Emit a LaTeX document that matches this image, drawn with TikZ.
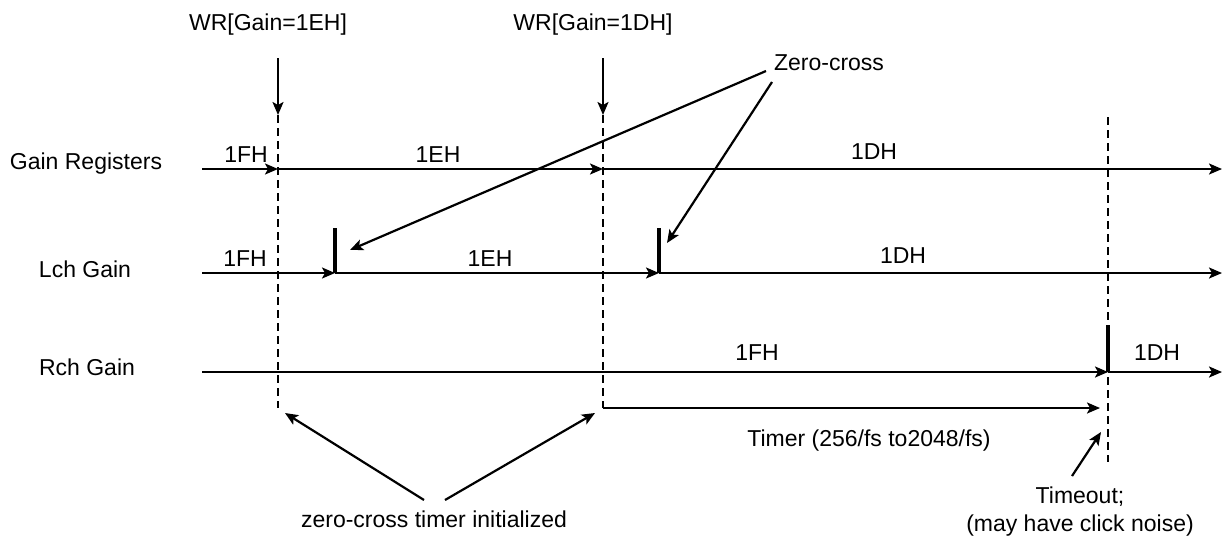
\documentclass[tikz,border=0pt]{standalone}
\usepackage{fontspec}
\setmainfont{Liberation Sans}
\usetikzlibrary{arrows.meta,positioning}
\tikzstyle{every edge}=[-,shorten >=0pt,draw]
\tikzstyle{txt}=[inner sep=0pt,font=\fontsize{11.5}{14}\selectfont]
\tikzstyle{lbl}=[txt,text height=8.3pt,text depth=0pt]

\begin{document}
\begin{tikzpicture}[x=0.5pt,y=-0.5pt]
        \tikzstyle{every edge}=[->,>={Stealth[length=6.5pt,width=5.5pt,inset=1.5pt]},line width=1.1pt,draw]
        \tikzstyle{bar}=[line width=2.3pt]
        \tikzstyle{mark line}=[dash pattern=on 4pt off 2.5pt,line width=0.8pt]
        \useasboundingbox (0,0) rectangle (1225,537);
        % Write commands:
        \node (wr_1) [lbl] at (268,22) {WR[Gain=1EH]};
        \node (wr_2) [lbl] at (593,22) {WR[Gain=1DH]};
        \node (zc) [lbl] at (829,62) {Zero-cross};
        % Row names:
        \node (n_gr) [lbl] at (86,161) {Gain Registers};
        \node (n_l) [lbl] at (85,269) {Lch Gain};
        \node (n_r) [lbl] at (87,367) {Rch Gain};
        % First line:
        \coordinate (g_0) at (202,169);
        \coordinate (g_1) at (278,169);
        \coordinate (g_2) at (603,169);
        \coordinate (g_3) at (1222,169);
        \node (v_g1) [lbl] at (246,154) {1FH};
        \node (v_g2) [lbl] at (438,154) {1EH};
        \node (v_g3) [lbl] at (874,151) {1DH};
        % Second line:
        \coordinate (l_0) at (202,273);
        \coordinate (l_1) at (335,273);
        \coordinate (l_2) at (659,273);
        \coordinate (l_3) at (1222,273);
        \coordinate (l_1t) at (335,228);
        \coordinate (l_2t) at (659,228);
        \node (v_l1) [lbl] at (245,258) {1FH};
        \node (v_l2) [lbl] at (490,258) {1EH};
        \node (v_l3) [lbl] at (903,255) {1DH};
        % Third line:
        \coordinate (r_0) at (202,372);
        \coordinate (r_1) at (1108,372);
        \coordinate (r_2) at (1222,372);
        \coordinate (r_1t) at (1108,325);
        \node (v_r1) [lbl] at (757,352) {1FH};
        \node (v_r2) [lbl] at (1157,352) {1DH};
        % Marker lines:
        \coordinate (w_1a) at (278,58);
        \coordinate (w_1b) at (278,115);
        \coordinate (w_2a) at (603,58);
        \coordinate (w_2b) at (603,115);
        \coordinate (d_1) at (278,408);
        \coordinate (d_2) at (603,408);
        \coordinate (d_3a) at (1108,117);
        \coordinate (d_3b) at (1108,462);
        \coordinate (t_end) at (1100,408);
        % Notes:
        \node (tm) [lbl] at (869,438) {Timer (256/fs to2048/fs)};
        \node (zi) [lbl] at (434,519) {zero-cross timer initialized};
        \node (to) [txt,align=center,anchor=north] at (1080,486) {Timeout;\\(may have click noise)};
        \coordinate (zc_a) at (766,71);
        \coordinate (zc_b) at (772,82);
        \coordinate (zc_1) at (350,250);
        \coordinate (zc_2) at (667,243);
        \coordinate (zi_a) at (424,500);
        \coordinate (zi_b) at (445,500);
        \coordinate (zi_1) at (285,413);
        \coordinate (zi_2) at (595,413);
        \coordinate (to_a) at (1072,476);
        \coordinate (to_1) at (1101,432);

        \draw[mark line] (w_1b) -- (d_1);
        \draw[mark line] (w_2b) -- (d_2);
        \draw[mark line] (d_3a) -- (d_3b);

        \path[->]
        (g_0) edge (g_1)
        (g_1) edge (g_2)
        (g_2) edge (g_3)
        (l_0) edge (l_1)
        (l_1) edge (l_2)
        (l_2) edge (l_3)
        (r_0) edge (r_1)
        (r_1) edge (r_2);

        \draw[bar] (l_1) -- (l_1t);
        \draw[bar] (l_2) -- (l_2t);
        \draw[bar] (r_1) -- (r_1t);

        \path[->]
        (w_1a) edge (w_1b)
        (w_2a) edge (w_2b)
        (d_2) edge (t_end)
        (zc_a) edge (zc_1)
        (zc_b) edge (zc_2)
        (zi_a) edge (zi_1)
        (zi_b) edge (zi_2)
        (to_a) edge (to_1);
\end{tikzpicture}
\end{document}
